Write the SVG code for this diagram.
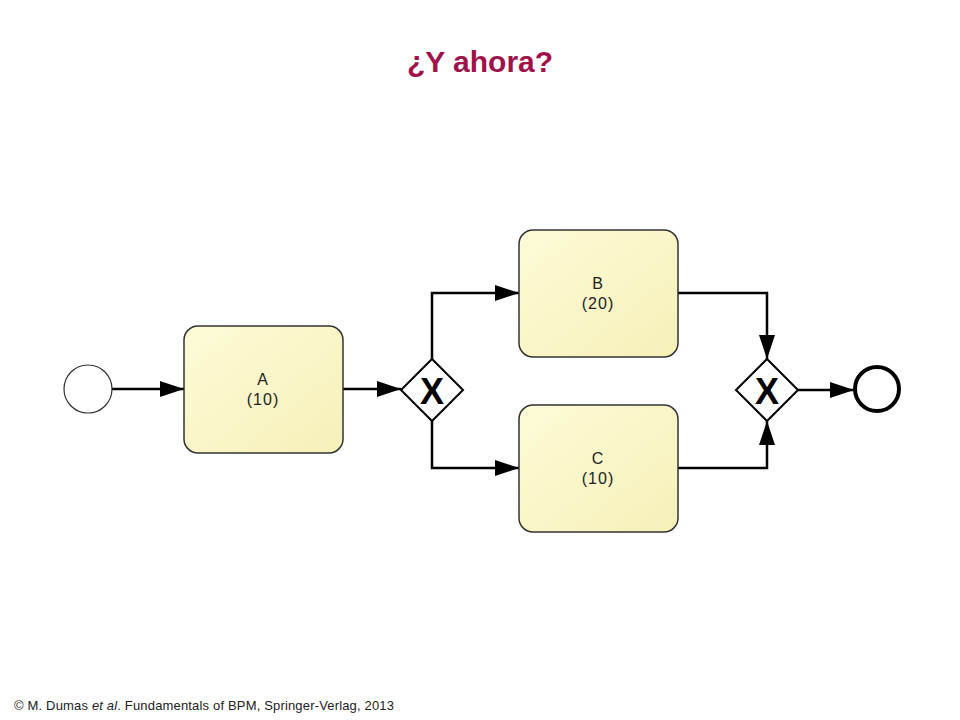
<svg xmlns="http://www.w3.org/2000/svg" width="960" height="720" viewBox="0 0 960 720">
<style>
.t{font-family:"Liberation Sans",Arial,sans-serif;font-size:16px;fill:#222;text-anchor:middle;letter-spacing:1px}
.task{fill:url(#g);stroke:#333;stroke-width:1.5}
.c{fill:none;stroke:#000;stroke-width:2.5}
.gw{fill:#fff;stroke:#000;stroke-width:2}
</style>
<defs>
<linearGradient id="g" x1="0" y1="0" x2="1" y2="1"><stop offset="0" stop-color="#fdfbd8"/><stop offset="1" stop-color="#f6f0b8"/></linearGradient>
<marker id="A" viewBox="0 0 24 16" refX="24" refY="8" markerWidth="24" markerHeight="16" orient="auto" markerUnits="userSpaceOnUse"><path d="M0,0L24,8L0,16z" fill="#000"/></marker>
</defs>
<rect width="960" height="720" fill="#fff"/>
<text x="480" y="72" font-family="Liberation Sans,Arial,sans-serif" font-size="30" font-weight="bold" fill="#a0134a" text-anchor="middle">¿Y ahora?</text>
<g id="connectors">
<path class="c" d="M112,389H184" marker-end="url(#A)"/>
<path class="c" d="M343,389H401" marker-end="url(#A)"/>
<path class="c" d="M432,359V293H519" marker-end="url(#A)"/>
<path class="c" d="M432,421V468H519" marker-end="url(#A)"/>
<path class="c" d="M678,293H767V359" marker-end="url(#A)"/>
<path class="c" d="M678,468H767V421" marker-end="url(#A)"/>
<path class="c" d="M798,390H854" marker-end="url(#A)"/>
</g>
<g id="start"><circle cx="88" cy="389" r="24" fill="#fff" stroke="#333" stroke-width="1.2"/></g>
<g id="taskA"><rect class="task" x="184" y="326" width="159" height="127" rx="14"/><text class="t" x="263" y="385">A</text><text class="t" x="263" y="405">(10)</text></g>
<g id="gw1"><path class="gw" d="M432,359L463,390L432,421L401,390z"/><text x="432" y="404" font-family="Liberation Sans,Arial,sans-serif" font-size="36" font-weight="bold" text-anchor="middle">X</text></g>
<g id="taskB"><rect class="task" x="519" y="230" width="159" height="127" rx="14"/><text class="t" x="598" y="289">B</text><text class="t" x="598" y="309">(20)</text></g>
<g id="taskC"><rect class="task" x="519" y="405" width="159" height="127" rx="14"/><text class="t" x="598" y="464">C</text><text class="t" x="598" y="484">(10)</text></g>
<g id="gw2"><path class="gw" d="M767,359L798,390L767,421L736,390z"/><text x="767" y="404" font-family="Liberation Sans,Arial,sans-serif" font-size="36" font-weight="bold" text-anchor="middle">X</text></g>
<g id="end"><circle cx="877" cy="389" r="22" fill="#fff" stroke="#000" stroke-width="4"/></g>
<text x="14" y="710" font-family="Liberation Sans,Arial,sans-serif" font-size="13" fill="#222" textLength="380" lengthAdjust="spacing">© M. Dumas <tspan font-style="italic">et al</tspan>. Fundamentals  of BPM, Springer-Verlag,  2013</text>
</svg>
